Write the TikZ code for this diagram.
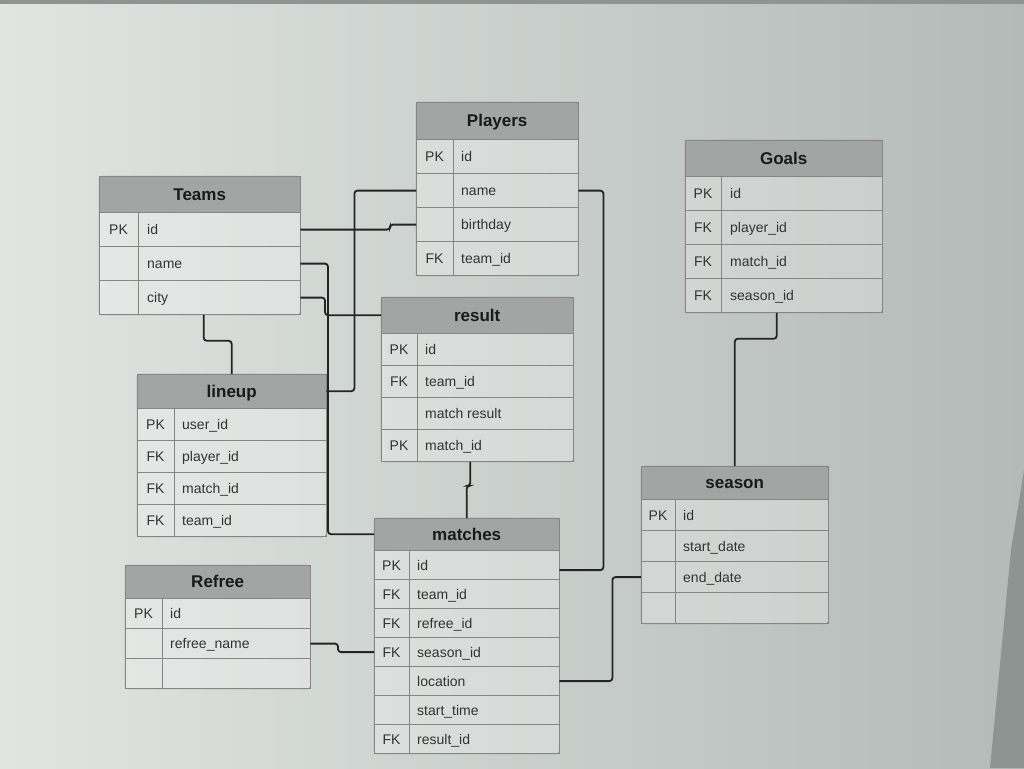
\documentclass[tikz,border=0pt]{standalone}
\usepackage{fontspec}
\setmainfont{Liberation Sans}
\usepackage{tikz}
\usetikzlibrary{calc,positioning}
\definecolor{bgleft}{RGB}{224,229,226}
\definecolor{bgright}{RGB}{180,186,183}
\definecolor{edgecol}{RGB}{142,148,146}
\definecolor{headcol}{RGB}{162,165,163}
\definecolor{gridcol}{RGB}{132,135,133}
\definecolor{linkcol}{RGB}{35,37,36}
\definecolor{headtext}{RGB}{25,26,25}
\definecolor{fieldtext}{RGB}{50,52,51}

\begin{document}
\begin{tikzpicture}[
      x=1pt, y=-1pt,
      head/.style = {
        draw=gridcol, fill=headcol, anchor=north west, inner sep=0pt,
        font=\fontsize{17pt}{19pt}\selectfont\bfseries, text=headtext,
        text height=12pt, text depth=0pt,
      },
      row/.style = {
        draw=gridcol, fill=white, fill opacity=.25, text opacity=1,
        anchor=north west, inner sep=0pt,
      },
      key/.style = {
        font=\fontsize{14pt}{16pt}\selectfont, text=fieldtext, inner sep=0pt,
        text height=10pt, text depth=0pt,
      },
      field/.style = { key, anchor=west },
      frame/.style = { draw=gridcol, rounded corners=3pt },
      link/.style = {
        draw=linkcol, line width=1.8pt, rounded corners=3pt,
      },
    ]
    % background of the photographed screen
    \shade[left color=bgleft, right color=bgright] (0,0) rectangle (1024,768);
    \fill[edgecol] (990,768) -- (1011,550) -- (1024,470) -- (1024,768) -- cycle;
    \fill[edgecol] (0,0) rectangle (1024,4);
    \useasboundingbox (0,0) rectangle (1024,768);

    % Teams
    \node[head, minimum width=201, minimum height=36] (teams) at (99,176) {Teams};
    \foreach \k/\f [count=\i] in {PK/id, {}/name, {}/city} {
      \node[row, minimum width=201, minimum height=34] (teams-\i) at ($(teams.south west)+(0,{(\i-1)*34})$) {};
      \draw[gridcol] ($(teams-\i.north west)+(39,0)$) -- ($(teams-\i.south west)+(39,0)$);
      \node[key] at ($(teams-\i.west)+(19.5,0)$) {\k};
      \node[field] at ($(teams-\i.west)+(48,0)$) {\f};
    }
    \draw[frame] (teams.north west) rectangle (teams-3.south east);

    % Players
    \node[head, minimum width=162, minimum height=37] (players) at (416,102) {Players};
    \foreach \k/\f [count=\i] in {PK/id, {}/name, {}/birthday, FK/team\_id} {
      \node[row, minimum width=162, minimum height=34] (players-\i) at ($(players.south west)+(0,{(\i-1)*34})$) {};
      \draw[gridcol] ($(players-\i.north west)+(37,0)$) -- ($(players-\i.south west)+(37,0)$);
      \node[key] at ($(players-\i.west)+(18.5,0)$) {\k};
      \node[field] at ($(players-\i.west)+(45,0)$) {\f};
    }
    \draw[frame] (players.north west) rectangle (players-4.south east);

    % Goals
    \node[head, minimum width=197, minimum height=36] (goals) at (685,140) {Goals};
    \foreach \k/\f [count=\i] in {PK/id, FK/player\_id, FK/match\_id, FK/season\_id} {
      \node[row, minimum width=197, minimum height=34] (goals-\i) at ($(goals.south west)+(0,{(\i-1)*34})$) {};
      \draw[gridcol] ($(goals-\i.north west)+(36,0)$) -- ($(goals-\i.south west)+(36,0)$);
      \node[key] at ($(goals-\i.west)+(18,0)$) {\k};
      \node[field] at ($(goals-\i.west)+(45,0)$) {\f};
    }
    \draw[frame] (goals.north west) rectangle (goals-4.south east);

    % result
    \node[head, minimum width=192, minimum height=36] (result) at (381,297) {result};
    \foreach \k/\f [count=\i] in {PK/id, FK/team\_id, {}/match result, PK/match\_id} {
      \node[row, minimum width=192, minimum height=32] (result-\i) at ($(result.south west)+(0,{(\i-1)*32})$) {};
      \draw[gridcol] ($(result-\i.north west)+(36,0)$) -- ($(result-\i.south west)+(36,0)$);
      \node[key] at ($(result-\i.west)+(18,0)$) {\k};
      \node[field] at ($(result-\i.west)+(44,0)$) {\f};
    }
    \draw[frame] (result.north west) rectangle (result-4.south east);

    % lineup
    \node[head, minimum width=189, minimum height=34] (lineup) at (137,374) {lineup};
    \foreach \k/\f [count=\i] in {PK/user\_id, FK/player\_id, FK/match\_id, FK/team\_id} {
      \node[row, minimum width=189, minimum height=32] (lineup-\i) at ($(lineup.south west)+(0,{(\i-1)*32})$) {};
      \draw[gridcol] ($(lineup-\i.north west)+(37,0)$) -- ($(lineup-\i.south west)+(37,0)$);
      \node[key] at ($(lineup-\i.west)+(18.5,0)$) {\k};
      \node[field] at ($(lineup-\i.west)+(45,0)$) {\f};
    }
    \draw[frame] (lineup.north west) rectangle (lineup-4.south east);

    % season
    \node[head, minimum width=187, minimum height=33] (season) at (641,466) {season};
    \foreach \k/\f [count=\i] in {PK/id, {}/start\_date, {}/end\_date, {}/{}} {
      \node[row, minimum width=187, minimum height=31] (season-\i) at ($(season.south west)+(0,{(\i-1)*31})$) {};
      \draw[gridcol] ($(season-\i.north west)+(34,0)$) -- ($(season-\i.south west)+(34,0)$);
      \node[key] at ($(season-\i.west)+(17,0)$) {\k};
      \node[field] at ($(season-\i.west)+(42,0)$) {\f};
    }
    \draw[frame] (season.north west) rectangle (season-4.south east);

    % matches
    \node[head, minimum width=185, minimum height=32] (matches) at (374,518) {matches};
    \foreach \k/\f [count=\i] in {PK/id, FK/team\_id, FK/refree\_id, FK/season\_id, {}/location, {}/start\_time, FK/result\_id} {
      \node[row, minimum width=185, minimum height=29] (matches-\i) at ($(matches.south west)+(0,{(\i-1)*29})$) {};
      \draw[gridcol] ($(matches-\i.north west)+(35,0)$) -- ($(matches-\i.south west)+(35,0)$);
      \node[key] at ($(matches-\i.west)+(17.5,0)$) {\k};
      \node[field] at ($(matches-\i.west)+(43,0)$) {\f};
    }
    \draw[frame] (matches.north west) rectangle (matches-7.south east);

    % Refree
    \node[head, minimum width=185, minimum height=33] (refree) at (125,565) {Refree};
    \foreach \k/\f [count=\i] in {PK/id, {}/refree\_name, {}/{}} {
      \node[row, minimum width=185, minimum height=30] (refree-\i) at ($(refree.south west)+(0,{(\i-1)*30})$) {};
      \draw[gridcol] ($(refree-\i.north west)+(37,0)$) -- ($(refree-\i.south west)+(37,0)$);
      \node[key] at ($(refree-\i.west)+(18.5,0)$) {\k};
      \node[field] at ($(refree-\i.west)+(45,0)$) {\f};
    }
    \draw[frame] (refree.north west) rectangle (refree-3.south east);

    % relations
    \draw[link] (teams-1.east) -| ($(players-3.west)+(-26,0)$) -- (players-3.west);
    \draw[link] (players-2.west) -| ($(lineup.east)+(28,0)$) -- (lineup.east);
    \draw[link] (teams-2.east) -| ($(matches.west)+(-46,0)$) -- (matches.west);
    \draw[link] (teams-3.east) -| ($(result.west)+(-56,0)$) -- (result.west);
    \draw[link] ($(teams-3.south)+(4,0)$) -- ++(0,26) -| (lineup.north);
    \draw[link] ($(result-4.south)+(-7,0)$) -- ++(0,24) -| (matches.north);
    \draw[link] (players-2.east) -| ($(matches-1.east)+(44,5)$) -- ($(matches-1.east)+(0,5)$);
    \draw[link] ($(goals-4.south)+(-7,0)$) -- ++(0,26) -| (season.north);
    \draw[link] (season-3.west) -| ($(matches-5.east)+(53,0)$) -- (matches-5.east);
    \draw[link] (refree-2.east) -| ($(matches-4.west)+(-36,0)$) -- (matches-4.west);
  \end{tikzpicture}
\end{document}
